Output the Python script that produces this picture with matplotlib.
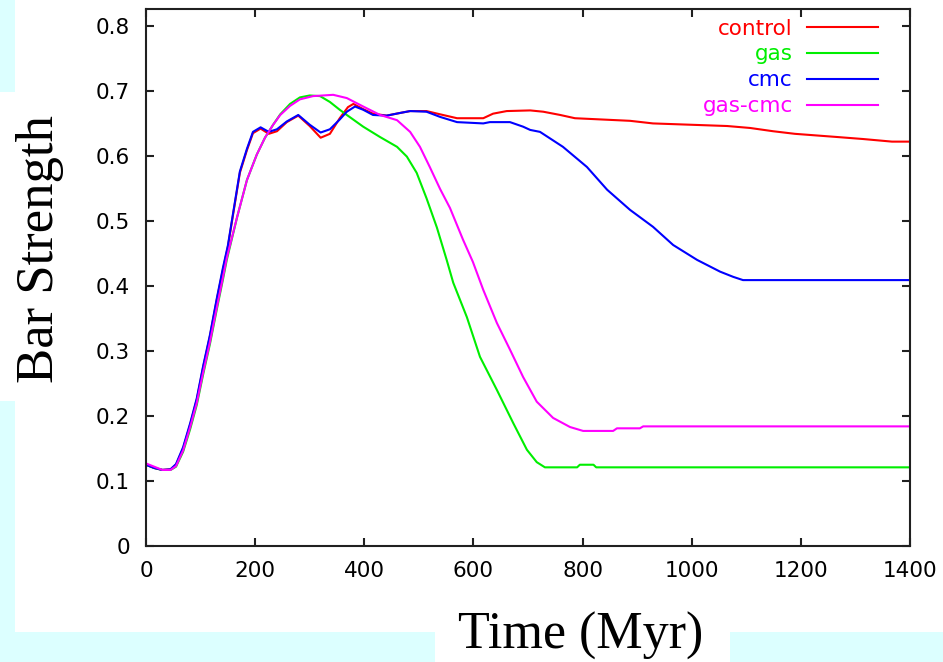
import matplotlib
matplotlib.use("Agg")
import matplotlib.pyplot as plt
from matplotlib.patches import Rectangle

# ---------------- data ----------------
control_t = [0, 15, 30, 45, 55, 68, 81, 93, 105, 117, 130, 141, 150, 160, 172, 185, 196, 210, 225,
             240, 258, 279, 300, 320, 337, 355, 370, 380, 398, 416, 441, 465, 484, 514, 539, 570,
             618, 636, 661, 704, 728, 759, 786, 887, 929, 1065, 1107, 1149, 1189, 1268, 1314, 1367, 1400]
control_v = [0.125, 0.12, 0.117, 0.118, 0.125, 0.15, 0.187, 0.225, 0.276, 0.322, 0.38, 0.425, 0.46,
             0.512, 0.574, 0.609, 0.635, 0.642, 0.634, 0.638, 0.652, 0.662, 0.646, 0.628, 0.634,
             0.658, 0.675, 0.68, 0.672, 0.665, 0.662, 0.666, 0.669, 0.669, 0.664, 0.658, 0.658,
             0.665, 0.669, 0.67, 0.668, 0.663, 0.658, 0.654, 0.65, 0.646, 0.643, 0.638, 0.634,
             0.629, 0.626, 0.622, 0.622]

gas_t = [0, 15, 30, 45, 55, 68, 81, 93, 105, 117, 130, 141, 148, 167, 185, 203, 218, 233, 246, 264,
         282, 300, 319, 337, 355, 368, 398, 429, 460, 478, 496, 514, 533, 551, 563, 588, 612, 643,
         673, 698, 716, 731, 790, 795, 820, 825, 1400]
gas_v = [0.125, 0.12, 0.117, 0.117, 0.122, 0.145, 0.18, 0.217, 0.265, 0.31, 0.365, 0.41, 0.44,
         0.506, 0.563, 0.602, 0.628, 0.648, 0.664, 0.68, 0.69, 0.693, 0.692, 0.683, 0.671, 0.663,
         0.645, 0.629, 0.614, 0.599, 0.574, 0.535, 0.49, 0.44, 0.405, 0.352, 0.291, 0.24, 0.189,
         0.148, 0.129, 0.121, 0.121, 0.125, 0.125, 0.121, 0.121]

cmc_t = [0, 15, 30, 45, 55, 68, 81, 93, 105, 117, 130, 141, 150, 160, 172, 185, 196, 210, 225, 240,
         258, 279, 300, 320, 337, 355, 368, 383, 398, 416, 441, 465, 484, 514, 539, 570, 618, 630,
         667, 691, 704, 722, 764, 808, 845, 887, 929, 966, 1010, 1052, 1076, 1094, 1400]
cmc_v = [0.125, 0.12, 0.117, 0.118, 0.126, 0.152, 0.189, 0.227, 0.278, 0.324, 0.382, 0.428, 0.462,
         0.514, 0.576, 0.611, 0.637, 0.644, 0.637, 0.641, 0.653, 0.663, 0.648, 0.636, 0.641,
         0.656, 0.668, 0.676, 0.671, 0.663, 0.662, 0.666, 0.669, 0.668, 0.66, 0.652, 0.65, 0.652,
         0.652, 0.645, 0.64, 0.637, 0.614, 0.583, 0.548, 0.517, 0.491, 0.463, 0.44, 0.422, 0.414,
         0.409, 0.409]

gascmc_t = [0, 15, 30, 45, 55, 68, 81, 93, 105, 117, 130, 141, 148, 167, 185, 203, 218, 233, 246,
            264, 282, 306, 343, 368, 398, 429, 460, 484, 502, 520, 539, 557, 581, 599, 618, 643,
            667, 691, 716, 746, 777, 801, 856, 863, 905, 911, 1400]
gascmc_v = [0.127, 0.122, 0.117, 0.117, 0.123, 0.147, 0.183, 0.22, 0.268, 0.313, 0.368, 0.413,
            0.443, 0.506, 0.563, 0.602, 0.628, 0.648, 0.663, 0.677, 0.687, 0.692, 0.694, 0.689,
            0.676, 0.663, 0.655, 0.637, 0.614, 0.583, 0.549, 0.52, 0.471, 0.437, 0.394, 0.343,
            0.302, 0.26, 0.222, 0.197, 0.183, 0.177, 0.177, 0.181, 0.181, 0.184, 0.184]

series_names = ["control", "gas", "cmc", "gas-cmc"]
series_colors = ["#ff0000", "#00ee00", "#0000ff", "#ff00ff"]

x_ticks = [0, 200, 400, 600, 800, 1000, 1200, 1400]
y_ticks = [0, 0.1, 0.2, 0.3, 0.4, 0.5, 0.6, 0.7, 0.8]
y_tick_labels = ["0", "0.1", "0.2", "0.3", "0.4", "0.5", "0.6", "0.7", "0.8"]

x_label = "Time (Myr)"
y_label = "Bar Strength"

# ---------------- figure ----------------
W, H = 943, 662
fig = plt.figure(figsize=(W / 100, H / 100), dpi=100)
fig.patch.set_facecolor("white")

cyan = "#dcffff"
for (x0, y0, x1, y1) in [(0, 0, 15, 92), (0, 401, 15, 662), (0, 632, 435, 662), (730, 632, 943, 662)]:
    fig.patches.append(Rectangle((x0 / W, 1 - y1 / H), (x1 - x0) / W, (y1 - y0) / H,
                                 transform=fig.transFigure, facecolor=cyan,
                                 edgecolor="none", zorder=0))

ax = fig.add_axes([146 / W, 1 - 546 / H, (910 - 146) / W, (546 - 9) / H])
ax.set_facecolor("white")

all_series = [(control_t, control_v), (gas_t, gas_v), (cmc_t, cmc_v), (gascmc_t, gascmc_v)]
for (t, v), name, col in zip(all_series, series_names, series_colors):
    ax.plot(t, v, color=col, lw=1.5, label=name)

ax.set_xlim(0, 1400)
ax.set_ylim(0, 0.826)
ax.set_xticks(x_ticks)
ax.set_yticks(y_ticks)
ax.set_yticklabels(y_tick_labels)

for s in ax.spines.values():
    s.set_linewidth(1.5)
    s.set_color("#202020")

ax.tick_params(direction="in", length=6, width=1.5, top=True, right=True,
               labelsize=15.5, pad=11, colors="#202020")
ax.tick_params(axis="y", pad=11.5)
for lab in ax.get_xticklabels() + ax.get_yticklabels():
    lab.set_color("black")
    lab.set_family("DejaVu Sans")

leg = ax.legend(loc="upper right", bbox_to_anchor=(0.958, 0.982), frameon=False,
                markerfirst=False, labelcolor="linecolor", fontsize=15.5,
                handlelength=3.3, handletextpad=0.65, labelspacing=0.27,
                borderpad=0, borderaxespad=0)

fig.text(40 / W, 1 - 249 / H, y_label, rotation=90, ha="center", va="center",
         family="Liberation Serif", fontsize=38, color="black")
fig.text(581 / W, 1 - 649 / H, x_label, ha="center", va="baseline",
         family="Liberation Serif", fontsize=37.5, color="black")

fig.savefig("out.png", dpi=100, facecolor="white")
